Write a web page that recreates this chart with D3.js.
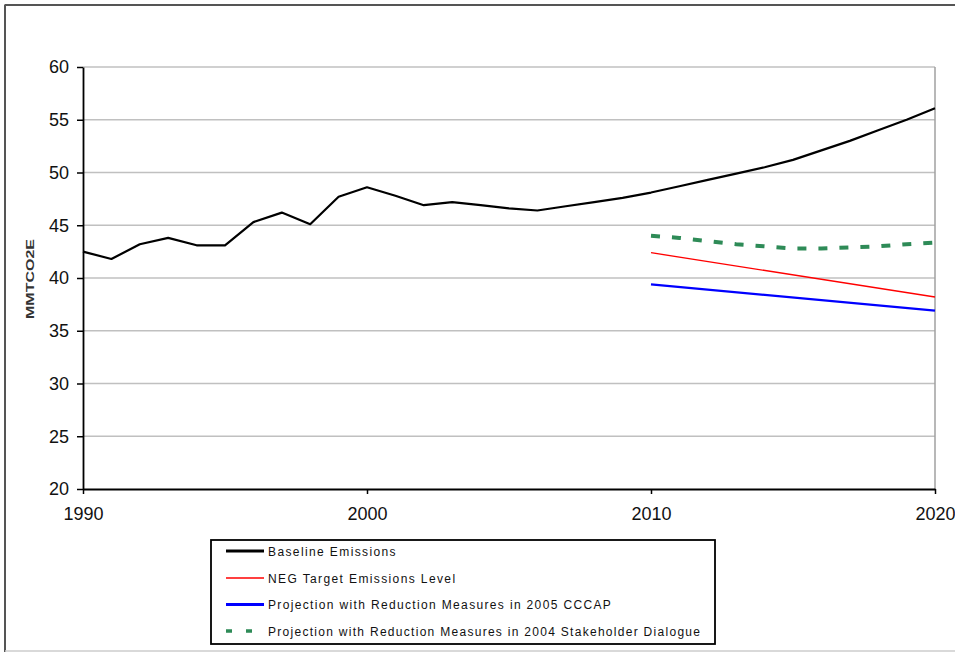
<!DOCTYPE html>
<html><head><meta charset="utf-8">
<script src="https://cdn.jsdelivr.net/npm/d3@7"></script>
<style>body{margin:0;background:#fff}svg{display:block}text{font-family:Arial,"Liberation Sans",sans-serif}</style>
</head><body><svg id="c" width="955" height="652"></svg>
<script>
const baselineYears = d3.range(1990, 2021);
const baselineValues = [42.5,41.8,43.2,43.8,43.1,43.1,45.3,46.2,45.1,47.7,48.6,47.8,46.9,47.2,46.9,46.6,46.4,46.8,47.2,47.6,48.1,48.7,49.3,49.9,50.5,51.2,52.1,53.0,54.0,55.0,56.1];
const negYears = [2010, 2020];
const negValues = [42.4, 38.2];
const cccapYears = [2010, 2020];
const cccapValues = [39.4, 36.9];
const stakeYears = d3.range(2010, 2021);
const stakeValues = [44.0,43.8,43.5,43.2,43.0,42.8,42.8,42.9,43.0,43.2,43.35];
const yTicks = [20,25,30,35,40,45,50,55,60];
const xTicks = [1990,2000,2010,2020];
const legendLabels = ["Baseline Emissions","NEG Target Emissions Level","Projection with Reduction Measures in 2005 CCCAP","Projection with Reduction Measures in 2004 Stakeholder Dialogue"];

const svg = d3.select("#c");
// outer frame
svg.append("line").attr("x1",4.5).attr("x2",955).attr("y1",5).attr("y2",5).attr("stroke","#555").attr("stroke-width",2);
svg.append("line").attr("x1",5).attr("x2",5).attr("y1",5).attr("y2",652).attr("stroke","#555").attr("stroke-width",2);
svg.append("line").attr("x1",5).attr("x2",955).attr("y1",651).attr("y2",651).attr("stroke","#ccc").attr("stroke-width",1.5);

const L=83, R=935, T=67, B=489;
const x = d3.scaleLinear().domain([1990,2020]).range([L,R]);
const y = d3.scaleLinear().domain([20,60]).range([B,T]);

// grid
svg.append("g").selectAll("line").data(yTicks.filter(d=>d>20)).join("line")
  .attr("x1",L).attr("x2",R).attr("y1",d=>y(d)).attr("y2",d=>y(d))
  .attr("stroke","#c0c0c0").attr("stroke-width",1.5);
svg.append("line").attr("x1",R).attr("x2",R).attr("y1",T).attr("y2",B).attr("stroke","#a0a0a0").attr("stroke-width",1.5);

// axes
const ya = svg.append("g").attr("transform",`translate(${L},0)`)
  .call(d3.axisLeft(y).tickValues(yTicks).tickSize(6).tickPadding(8).tickSizeOuter(0));
ya.select(".domain").attr("stroke","#000").attr("stroke-width",1.8);
ya.selectAll(".tick line").attr("stroke","#000").attr("stroke-width",1.5);
ya.selectAll("text").attr("font-size",18).attr("fill","#111");

const xa = svg.append("g").attr("transform",`translate(0,${B})`)
  .call(d3.axisBottom(x).tickValues(xTicks).tickFormat(d3.format("d")).tickSize(5).tickPadding(13).tickSizeOuter(0));
xa.select(".domain").attr("stroke","#000").attr("stroke-width",1.8);
xa.selectAll(".tick line").attr("stroke","#000").attr("stroke-width",1.5);
xa.selectAll("text").attr("font-size",18).attr("fill","#111");

svg.append("text").attr("transform","translate(34,279) rotate(-90)").attr("text-anchor","middle")
  .attr("font-size",11).attr("font-weight","bold").attr("fill","#333")
  .attr("textLength",80).attr("lengthAdjust","spacingAndGlyphs").text("MMTCO2E");

const line = d3.line().x(d=>x(d[0])).y(d=>y(d[1]));
const zip = (a,b)=>a.map((v,i)=>[v,b[i]]);
svg.append("path").attr("d",line(zip(stakeYears,stakeValues))).attr("fill","none").attr("stroke","#2e8b57").attr("stroke-width",4).attr("stroke-dasharray","9,12");
svg.append("path").attr("d",line(zip(negYears,negValues))).attr("fill","none").attr("stroke","#ff0000").attr("stroke-width",1.3);
svg.append("path").attr("d",line(zip(cccapYears,cccapValues))).attr("fill","none").attr("stroke","#0000ff").attr("stroke-width",2.2);
svg.append("path").attr("d",line(zip(baselineYears,baselineValues))).attr("fill","none").attr("stroke","#000").attr("stroke-width",2.2).attr("stroke-linejoin","round");

// legend
const lg = svg.append("g");
lg.append("rect").attr("x",211).attr("y",540).attr("width",504).attr("height",104).attr("fill","#fff").attr("stroke","#000").attr("stroke-width",1.8);
const styles = [
  {c:"#000",w:3,da:null},{c:"#ff0000",w:1.5,da:null},{c:"#0000ff",w:3,da:null},{c:"#2e8b57",w:3.5,da:"6,14"}];
const ly = [551,578,604.5,631];
const texts = [];
legendLabels.forEach((t,i)=>{
  lg.append("line").attr("x1",226).attr("x2",264).attr("y1",ly[i]).attr("y2",ly[i])
    .attr("stroke",styles[i].c).attr("stroke-width",styles[i].w).attr("stroke-dasharray",styles[i].da);
  texts.push(lg.append("text").attr("x",268).attr("y",ly[i]+4.5).attr("font-size",12).attr("fill","#111").text(t));
});
// stretch legend text so the longest label ends where the reference's does
const longest = d3.max(texts, s=>s.node().getComputedTextLength());
const k = 432/longest;
texts.forEach(s=>{
  const w = s.node().getComputedTextLength();
  s.attr("textLength", w*k).attr("lengthAdjust","spacing");
});
</script></body></html>
